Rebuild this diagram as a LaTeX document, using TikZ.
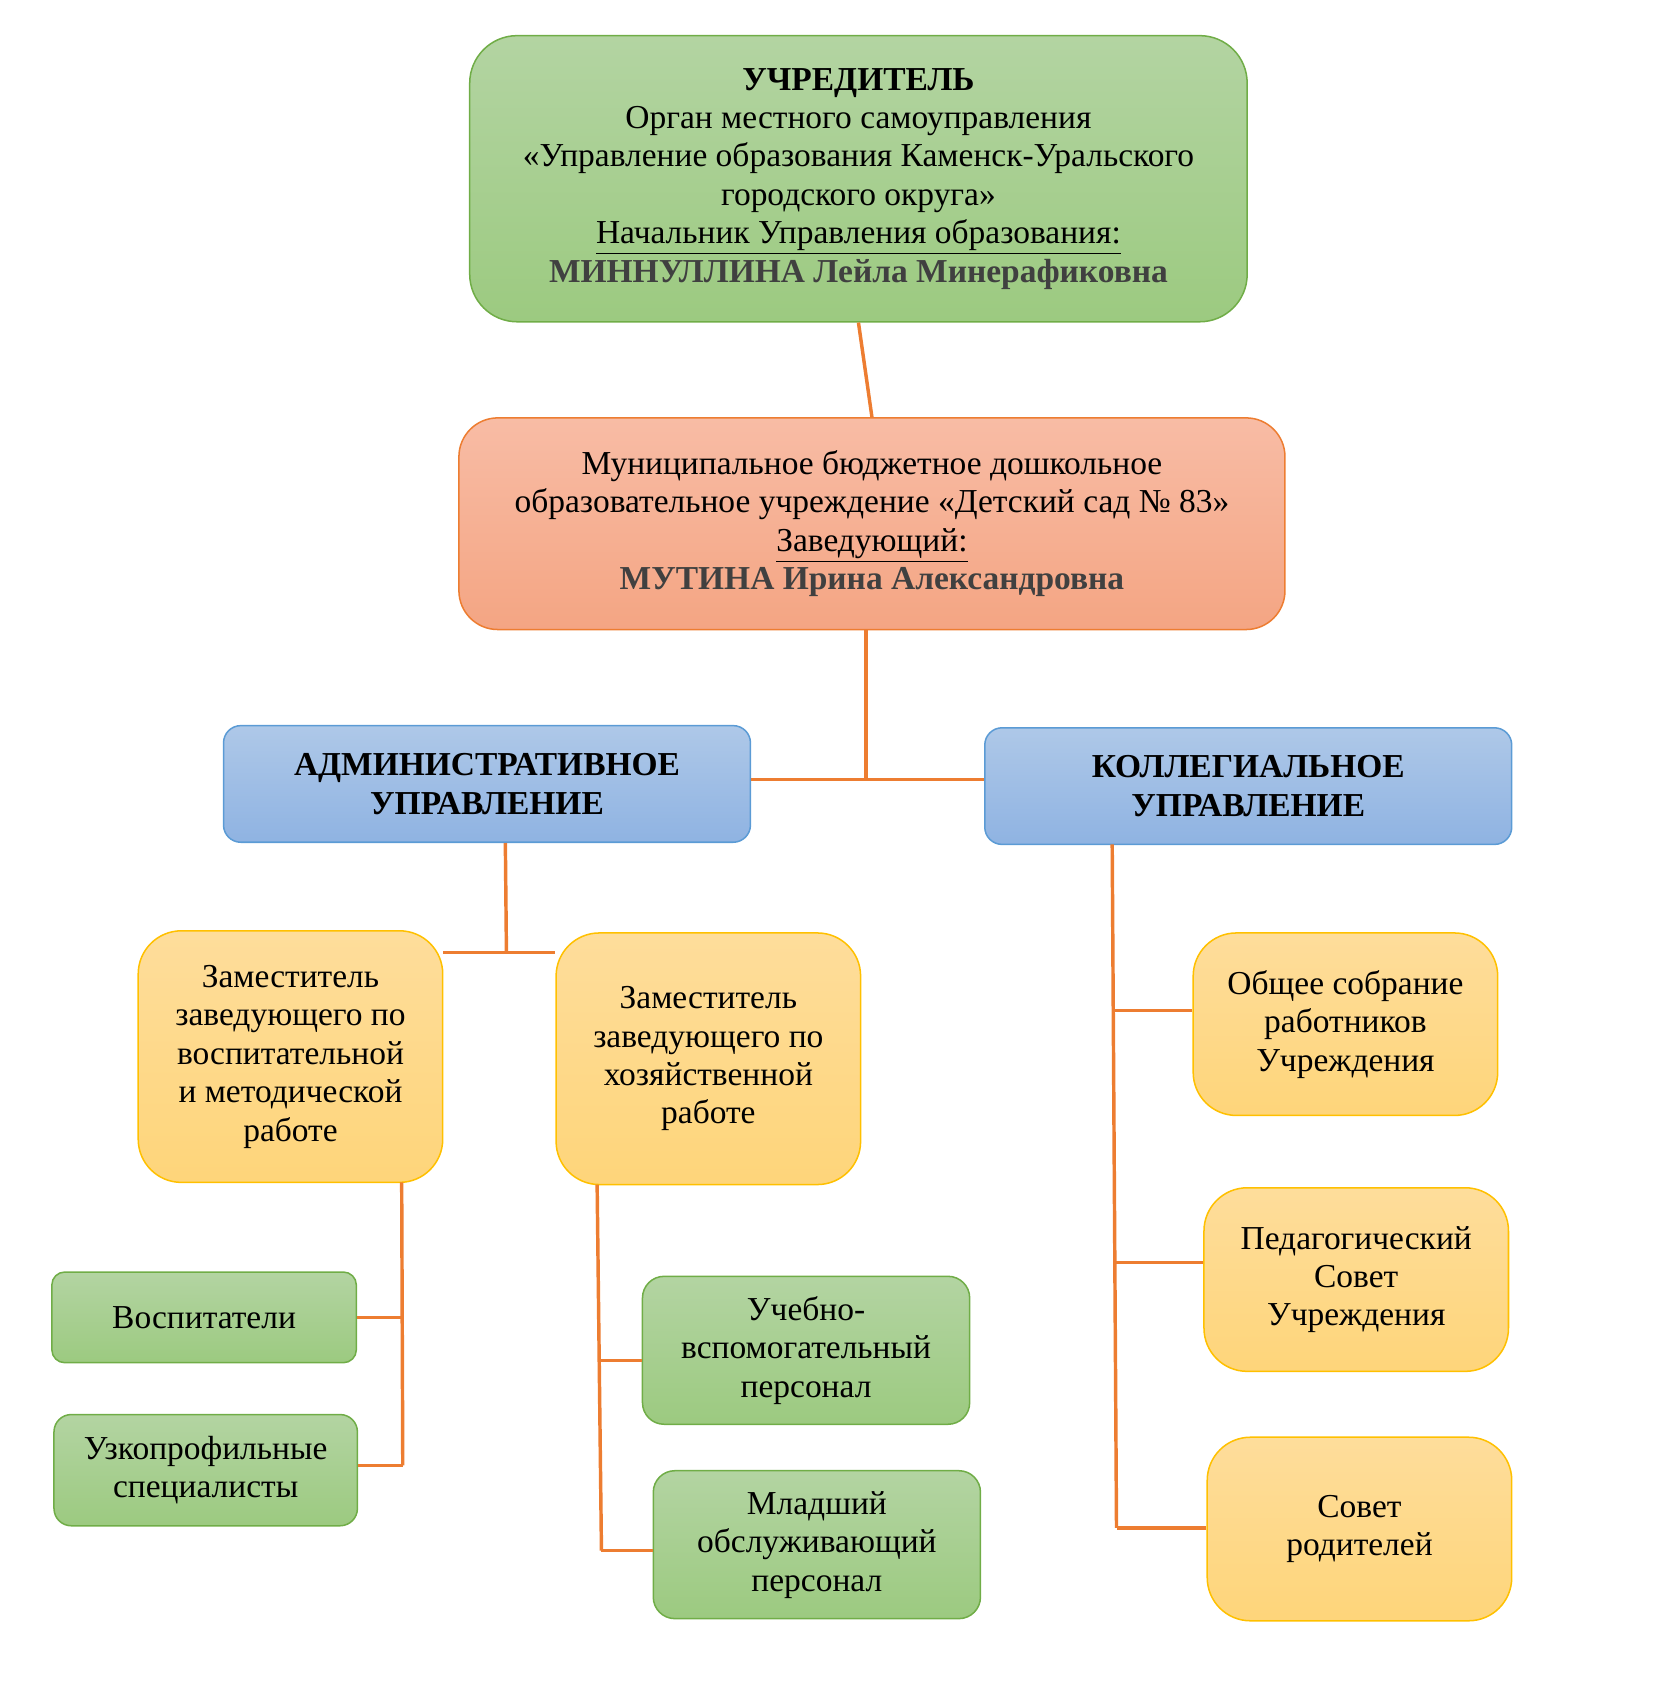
\documentclass[tikz,border=0pt]{standalone}
\usepackage{fontspec}
\setmainfont{Liberation Serif}
\begin{document}
\begin{tikzpicture}[x=0.5pt,y=-0.5pt,
 box/.style={draw,line width=0.7pt,align=center,inner sep=0pt,font=\fontsize{15.5}{17.8}\selectfont},
 gr/.style={box,draw=green!50!black!70!white,top color=gbt,bottom color=gbb,rounded corners=#1},
 ye/.style={box,draw=yedge,top color=ybt,bottom color=ybb,rounded corners=20pt},
 bl/.style={box,draw=bedge,top color=bbt,bottom color=bbb,rounded corners=8pt},
 ln/.style={draw=ocol,line width=1.6pt}]
\definecolor{gbt}{HTML}{B3D4A2}\definecolor{gbb}{HTML}{9CCA80}
\definecolor{gedge}{HTML}{70AD47}
\definecolor{ybt}{HTML}{FEDD9B}\definecolor{ybb}{HTML}{FED57A}\definecolor{yedge}{HTML}{FFC000}
\definecolor{bbt}{HTML}{AEC8E8}\definecolor{bbb}{HTML}{8FB3E2}\definecolor{bedge}{HTML}{5B9BD5}
\definecolor{obt}{HTML}{F8BCA5}\definecolor{obb}{HTML}{F4A583}\definecolor{ocol}{HTML}{ED7D31}
\definecolor{dg}{HTML}{404040}
\useasboundingbox (0,0) rectangle (1530,1579);
\node[box,draw=gedge,top color=gbt,bottom color=gbb,rounded corners=22pt,minimum width=360pt,minimum height=132.5pt] (top) at (795,165.5)
 {\textbf{УЧРЕДИТЕЛЬ}\\Орган местного самоуправления\\«Управление образования Каменск-Уральского\\городского округа»\\\underline{Начальник Управления образования:}\\\textcolor{dg}{\textbf{МИННУЛЛИНА Лейла Минерафиковна}}};
\node[box,draw=ocol,top color=obt,bottom color=obb,rounded corners=18pt,minimum width=382.5pt,minimum height=98pt] (mid) at (807.5,485)
 {Муниципальное бюджетное дошкольное\\образовательное учреждение «Детский сад № 83»\\\underline{Заведующий:}\\\textcolor{dg}{\textbf{МУТИНА Ирина Александровна}}};
\node[bl,minimum width=244pt,minimum height=54pt] (admin) at (451,726) {\textbf{АДМИНИСТРАТИВНОЕ}\\\textbf{УПРАВЛЕНИЕ}};
\node[bl,minimum width=244pt,minimum height=54pt] (koll) at (1156,728) {\textbf{КОЛЛЕГИАЛЬНОЕ}\\\textbf{УПРАВЛЕНИЕ}};
\node[ye,minimum width=141pt,minimum height=116.5pt] (z1) at (269,978.5) {Заместитель\\заведующего по\\воспитательной\\и методической\\работе};
\node[ye,minimum width=141pt,minimum height=116.5pt] (z2) at (656,980.5) {Заместитель\\заведующего по\\хозяйственной\\работе};
\node[ye,minimum width=141pt,minimum height=84.5pt] (obsh) at (1246,948.5) {Общее собрание\\работников\\Учреждения};
\node[ye,minimum width=141pt,minimum height=85pt] (ped) at (1256,1185) {Педагогический\\Совет\\Учреждения};
\node[ye,minimum width=141pt,minimum height=85pt] (sov) at (1259,1416) {Совет\\родителей};
\node[box,draw=gedge,top color=gbt,bottom color=gbb,rounded corners=6pt,minimum width=141pt,minimum height=42pt] (vosp) at (189,1220) {Воспитатели};
\node[box,draw=gedge,top color=gbt,bottom color=gbb,rounded corners=8pt,minimum width=140.5pt,minimum height=51.5pt] (uzk) at (190.5,1361.5) {Узкопрофильные\\специалисты};
\node[box,draw=gedge,top color=gbt,bottom color=gbb,rounded corners=10pt,minimum width=151.5pt,minimum height=68.5pt] (uch) at (746.5,1250.5) {Учебно-\\вспомогательный\\персонал};
\node[box,draw=gedge,top color=gbt,bottom color=gbb,rounded corners=10pt,minimum width=151.5pt,minimum height=68.5pt] (mlad) at (756.5,1430.5) {Младший\\обслуживающий\\персонал};
% connectors
\coordinate (j1) at (802,722);
\coordinate (j2) at (469,882);
\coordinate (a1) at (372,1095);\coordinate (a2) at (373,1357);
\coordinate (b1) at (553,1097);\coordinate (b2) at (557,1436);
\coordinate (c1) at (1030,782);\coordinate (c2) at (1034,1415);
\draw[ln] (top.south) -- (mid.north);
\draw[ln] (mid.south -| j1) -- (j1);
\draw[ln] (admin.east |- j1) -- (koll.west |- j1);
\draw[ln] (admin.south -| 468,0) -- (j2);
\draw[ln] (z1.north east |- j2) -- (z2.north west |- j2);
\draw[ln] (a1) -- (a2);
\draw[ln] (vosp.east) -- (vosp.east -| a1);
\draw[ln] (uzk.east |- a2) -- (a2);
\draw[ln] (b1) -- (b2);
\draw[ln] (uch.west |- 0,1260) -- (556,1260);
\draw[ln] (mlad.west |- b2) -- (b2);
\draw[ln] (c1) -- (c2);
\draw[ln] (obsh.west |- 0,936) -- (1032,936);
\draw[ln] (ped.west |- 0,1169) -- (1033,1169);
\draw[ln] (sov.west |- c2) -- (c2);
\end{tikzpicture}
\end{document}
